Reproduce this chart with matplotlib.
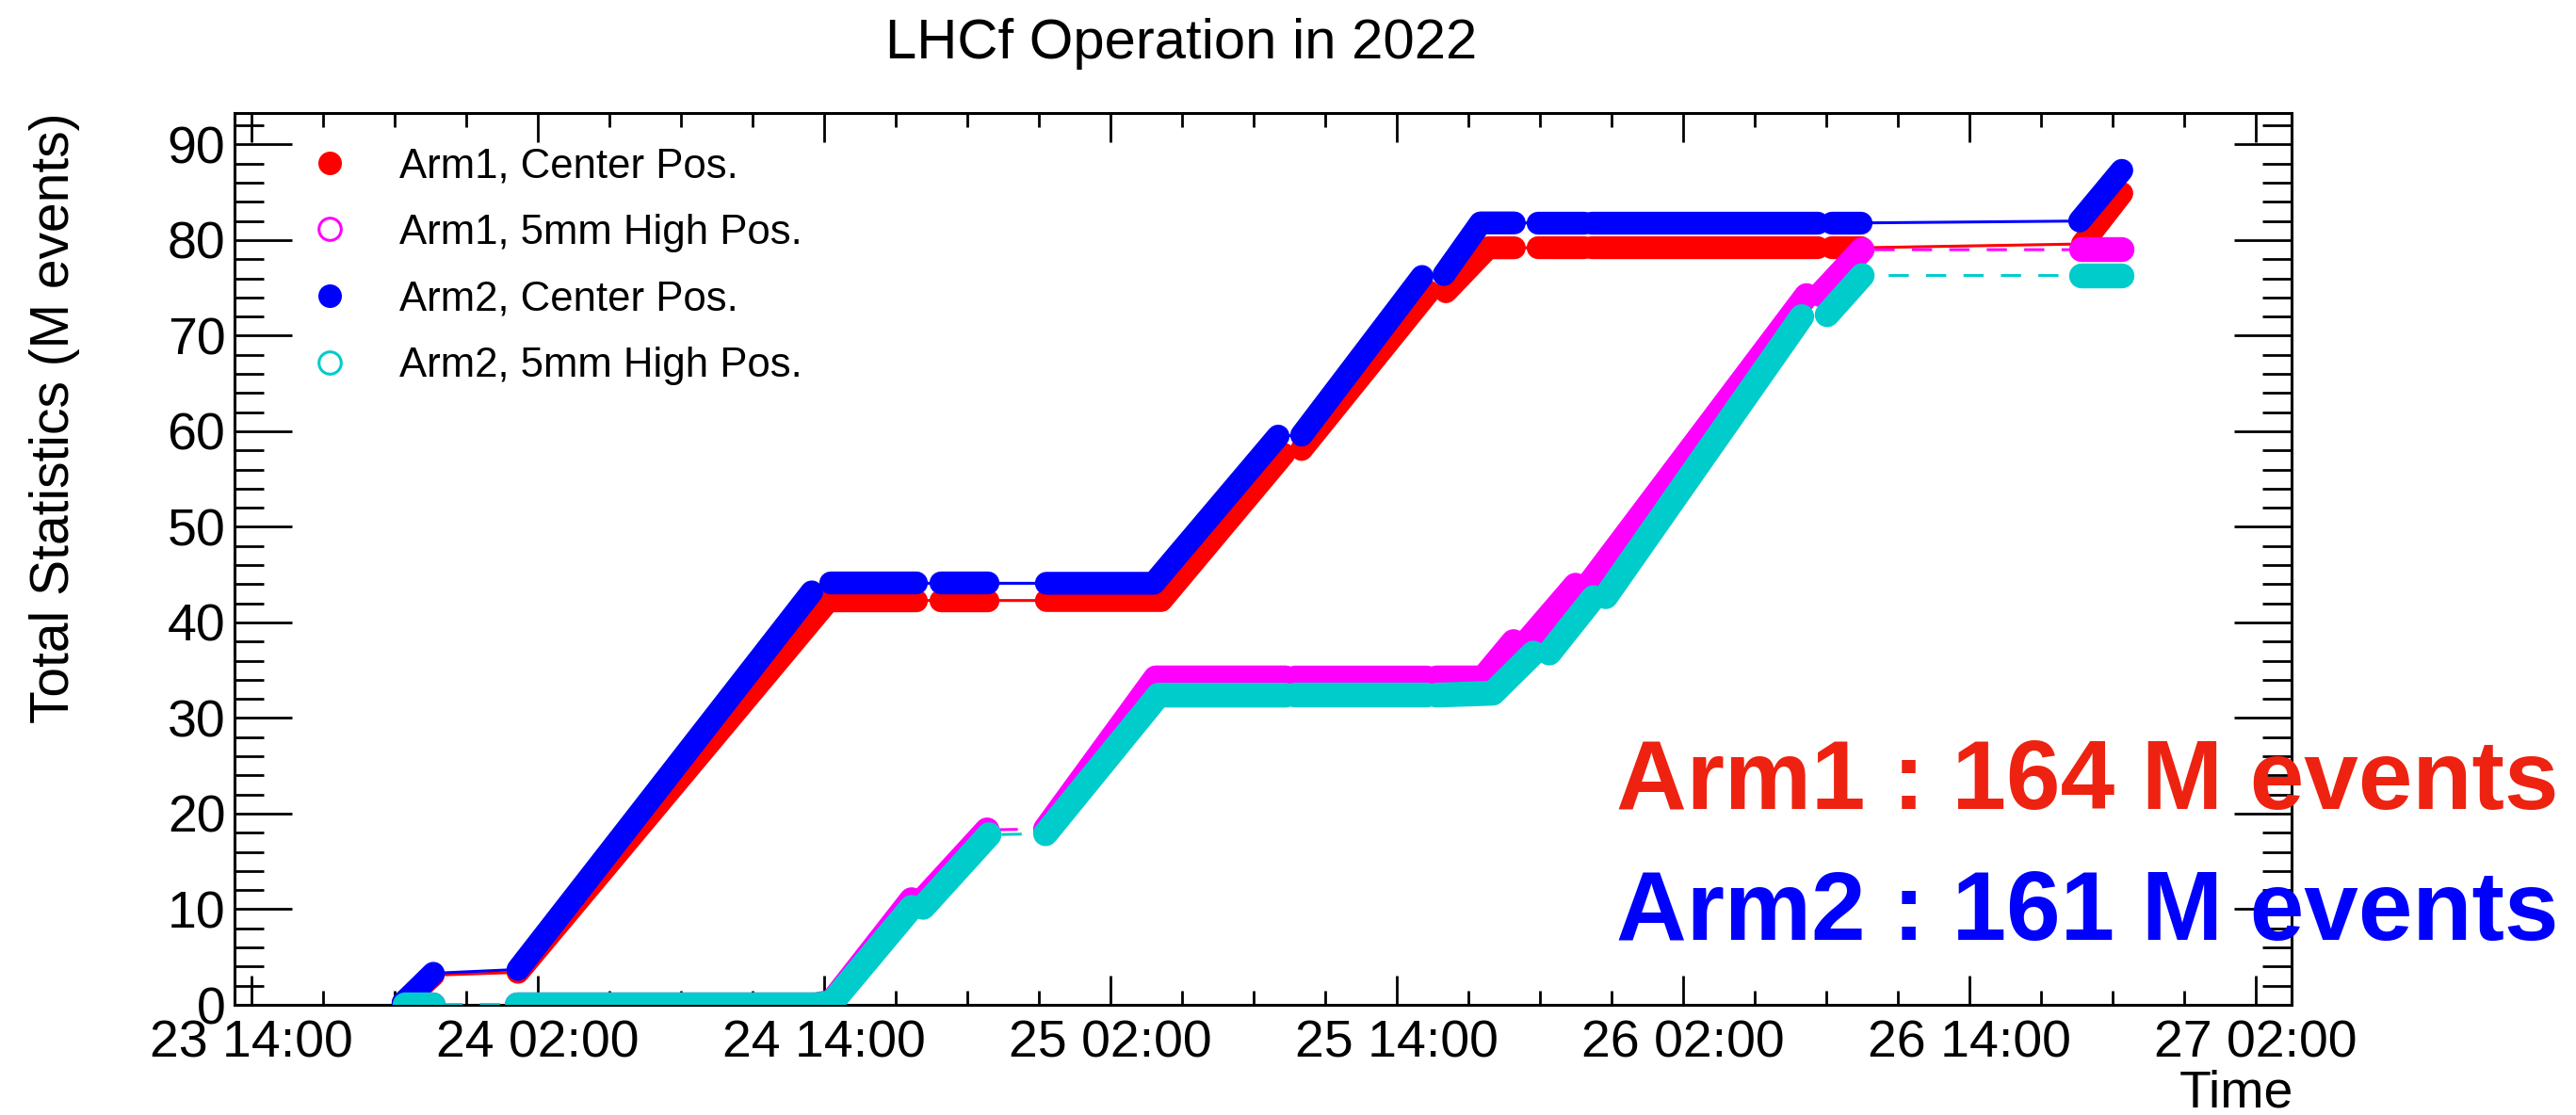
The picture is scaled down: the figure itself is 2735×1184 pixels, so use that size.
#!/usr/bin/env python3
"""LHCf 2022 operation - cumulative statistics per arm / position."""
import matplotlib
matplotlib.use('Agg')
import matplotlib.pyplot as plt
import matplotlib.dates as mdates
from matplotlib.lines import Line2D
from matplotlib.ticker import MultipleLocator
import pandas as pd

plt.rcParams['font.family'] = ['Liberation Sans', 'DejaVu Sans']

# ---------------------------------------------------------------------------
# Data: "day hh:mm" in Nov 2022, M events, run segment
# ---------------------------------------------------------------------------
arm1_center_t = ['23 20:21', '23 21:37', '24 01:10', '24 14:07', '24 14:17', '24 17:52',
                 '24 18:54', '24 20:52', '24 23:19', '25 04:08', '25 09:16', '25 10:01',
                 '25 15:21', '25 16:04', '25 17:50', '25 18:56', '25 19:56', '25 21:52',
                 '25 22:11', '26 07:39', '26 08:15', '26 09:28', '26 18:45', '26 20:24']
arm1_center_v = [0.2, 3.1, 3.4, 42.1, 42.3, 42.3,
                 42.3, 42.3, 42.3, 42.3, 57.6, 58.1,
                 74.6, 74.6, 79.2, 79.2, 79.2, 79.2,
                 79.2, 79.2, 79.2, 79.2, 79.6, 84.9]
arm1_center_run = [0, 0, 1, 1, 2, 2, 3, 3, 4, 4, 4, 5,
                   5, 6, 6, 6, 7, 7, 8, 8, 9, 9, 10, 10]

arm1_high_t = ['23 20:26', '23 21:37', '24 01:08', '24 13:39', '24 14:19', '24 17:40',
               '24 18:09', '24 20:50', '24 23:17', '25 03:54', '25 09:21', '25 09:45',
               '25 15:16', '25 15:40', '25 17:38', '25 18:54', '25 19:30', '25 21:30',
               '25 22:04', '26 07:11', '26 07:46', '26 09:31', '26 18:42', '26 20:24']
arm1_high_v = [0.0, 0.0, 0.0, 0.0, 0.3, 11.0,
               11.0, 18.3, 18.4, 34.2, 34.2, 34.2,
               34.2, 34.2, 34.2, 38.0, 38.1, 43.9,
               44.0, 74.2, 74.3, 79.0, 79.0, 79.0]
arm1_high_run = [0, 0, 1, 1, 1, 1, 2, 2, 3, 3, 3, 4,
                 4, 5, 5, 5, 6, 6, 7, 7, 8, 8, 9, 9]

arm2_center_t = ['23 20:21', '23 21:37', '24 01:10', '24 13:29', '24 14:17', '24 17:52',
                 '24 18:54', '24 20:52', '24 23:19', '25 03:49', '25 09:02', '25 10:01',
                 '25 15:04', '25 15:59', '25 17:31', '25 18:56', '25 19:56', '25 21:52',
                 '25 22:11', '26 07:39', '26 08:15', '26 09:28', '26 18:38', '26 20:24']
arm2_center_v = [0.2, 3.3, 3.7, 43.2, 44.1, 44.1,
                 44.1, 44.1, 44.1, 44.1, 59.5, 59.6,
                 76.2, 76.4, 81.8, 81.8, 81.8, 81.8,
                 81.8, 81.8, 81.8, 81.8, 82.0, 87.3]
arm2_center_run = [0, 0, 1, 1, 2, 2, 3, 3, 4, 4, 4, 5,
                   5, 6, 6, 6, 7, 7, 8, 8, 9, 9, 10, 10]

arm2_high_t = ['23 20:26', '23 21:37', '24 01:08', '24 13:39', '24 14:19', '24 17:40',
               '24 18:09', '24 20:55', '24 23:17', '25 04:01', '25 09:21', '25 09:45',
               '25 15:16', '25 15:40', '25 18:02', '25 19:44', '25 20:24', '25 22:15',
               '25 22:46', '26 06:59', '26 08:03', '26 09:31', '26 18:42', '26 20:24']
arm2_high_v = [0.0, 0.0, 0.0, 0.0, 0.2, 10.2,
               10.2, 17.8, 17.9, 32.4, 32.4, 32.4,
               32.4, 32.4, 32.6, 36.8, 36.8, 42.6,
               42.7, 72.0, 72.2, 76.3, 76.3, 76.3]
arm2_high_run = [0, 0, 1, 1, 1, 1, 2, 2, 3, 3, 3, 4,
                 4, 5, 5, 5, 6, 6, 7, 7, 8, 8, 9, 9]

labels = ['Arm1, Center Pos.', 'Arm1, 5mm High Pos.', 'Arm2, Center Pos.', 'Arm2, 5mm High Pos.']

# ---------------------------------------------------------------------------
# Style
# ---------------------------------------------------------------------------
RED = '#FF0000'
MAGENTA = '#FF00FF'
BLUE = '#0000FF'
CYAN = '#00CCCC'
TXT_RED = '#EE2211'

fig = plt.figure(figsize=(27.35, 11.84), dpi=100)
fig.patch.set_facecolor('white')
ax = fig.add_axes([249 / 2735, 1 - 1067 / 1184, (2433 - 249) / 2735, (1067 - 120) / 1184])


def to_time(days):
    return pd.to_datetime(['2022-11-' + d for d in days])


def draw_series(days, vals, runs, color, dashed, z):
    t = to_time(days)
    ls = (0, (7, 6)) if dashed else '-'
    ax.plot(t, vals, color=color, lw=2.2, ls=ls, zorder=z)
    band = 19 if dashed else 17.5
    for r in sorted(set(runs)):
        idx = [i for i, k in enumerate(runs) if k == r]
        ax.plot(t[idx], [vals[i] for i in idx], color=color, lw=band,
                solid_capstyle='round', solid_joinstyle='round', zorder=z)


draw_series(arm1_center_t, arm1_center_v, arm1_center_run, RED, False, 2)
draw_series(arm1_high_t, arm1_high_v, arm1_high_run, MAGENTA, True, 3)
draw_series(arm2_center_t, arm2_center_v, arm2_center_run, BLUE, False, 4)
draw_series(arm2_high_t, arm2_high_v, arm2_high_run, CYAN, True, 5)

# ---------------------------------------------------------------------------
# Axes
# ---------------------------------------------------------------------------
ax.set_xlim(pd.Timestamp('2022-11-23 13:17'), pd.Timestamp('2022-11-27 03:31'))
ax.set_ylim(0, 93.3)
ax.xaxis.set_major_locator(mdates.HourLocator(byhour=[2, 14]))
ax.xaxis.set_minor_locator(mdates.HourLocator(byhour=[5, 8, 11, 17, 20, 23]))
ax.xaxis.set_major_formatter(mdates.DateFormatter('%d %H:%M'))
ax.yaxis.set_major_locator(MultipleLocator(10))
ax.yaxis.set_minor_locator(MultipleLocator(2))

for s in ax.spines.values():
    s.set_linewidth(2.2)
ax.tick_params(which='both', direction='in', top=True, right=True, width=2, labelsize=40)
ax.tick_params(axis='x', which='major', length=22, pad=11)
ax.tick_params(axis='x', which='minor', length=11)
ax.tick_params(axis='y', which='major', length=44, pad=7)
ax.tick_params(axis='y', which='minor', length=22)

# ---------------------------------------------------------------------------
# Legend
# ---------------------------------------------------------------------------
handles = [
    Line2D([], [], ls='none', marker='o', ms=17, mfc=RED, mec=RED),
    Line2D([], [], ls='none', marker='o', ms=17, mfc='none', mec=MAGENTA, mew=2.2),
    Line2D([], [], ls='none', marker='o', ms=17, mfc='none', mec=CYAN, mew=2.2),
]
handles.insert(2, Line2D([], [], ls='none', marker='o', ms=17, mfc=BLUE, mec=BLUE))
ax.legend(handles, labels, loc='upper left', bbox_to_anchor=(328 / 2735, 1 - 156 / 1184),
          bbox_transform=fig.transFigure, frameon=False, fontsize=31.5, borderpad=0,
          borderaxespad=0, handlelength=1.0, handletextpad=1.2, labelspacing=0.68)

# ---------------------------------------------------------------------------
# Texts
# ---------------------------------------------------------------------------
fig.text(1254 / 2735, 1 - 46 / 1184, 'LHCf Operation in 2022', fontsize=43,
         ha='center', va='center')
fig.text(58 / 2735, 1 - 119 / 1184, 'Total Statistics (M events)', fontsize=41,
         rotation=90, ha='center', va='top')
fig.text(2435 / 2735, 1 - 1175 / 1184, 'Time', fontsize=40, ha='right', va='baseline')
fig.text(1716 / 2735, 1 - 859 / 1184, 'Arm1 : 164 M events', fontsize=74.5,
         fontweight='bold', color=TXT_RED, ha='left', va='baseline')
fig.text(1716 / 2735, 1 - 998 / 1184, 'Arm2 : 161 M events', fontsize=74.5,
         fontweight='bold', color=BLUE, ha='left', va='baseline')

fig.savefig('out.png', dpi=100, facecolor='white')
